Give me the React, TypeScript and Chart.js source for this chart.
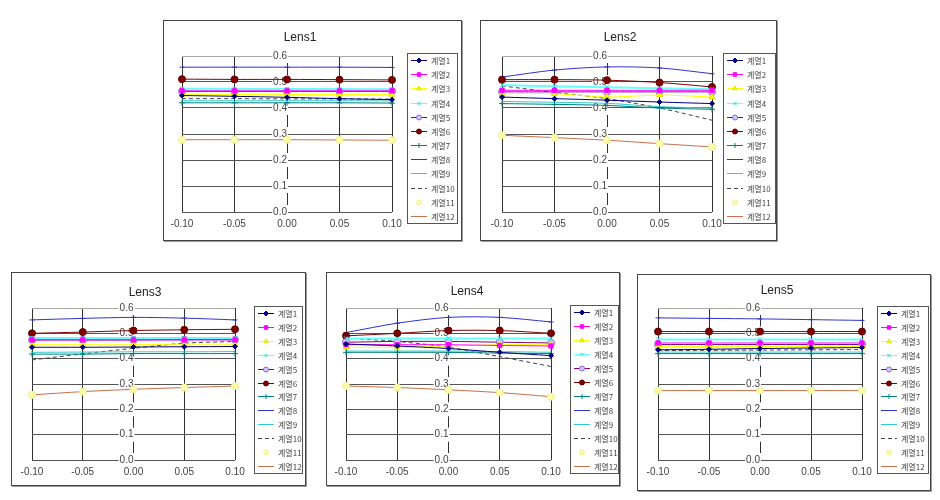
import React, { useEffect, useRef } from 'react';
import { Chart, registerables } from 'chart.js';
import { drawPoint } from 'chart.js/helpers';

Chart.register(...registerables);

// ---------- data ----------
const xValues = [-0.1, -0.05, 0, 0.05, 0.1];
const xTicks = [-0.1, -0.05, 0, 0.05, 0.1];
const yTicks = [0, 0.1, 0.2, 0.3, 0.4, 0.5, 0.6];
const seriesLabels = ['계열1', '계열2', '계열3', '계열4', '계열5', '계열6', '계열7', '계열8', '계열9', '계열10', '계열11', '계열12'];
const lensTitles = ['Lens1', 'Lens2', 'Lens3', 'Lens4', 'Lens5'];

const lens1Values = [
  [0.448, 0.445, 0.441, 0.436, 0.432],
  [0.466, 0.466, 0.466, 0.466, 0.466],
  [0.452, 0.452, 0.452, 0.452, 0.452],
  [0.474, 0.474, 0.473, 0.473, 0.472],
  [0.464, 0.464, 0.464, 0.464, 0.464],
  [0.511, 0.510, 0.510, 0.509, 0.508],
  [0.420, 0.420, 0.420, 0.420, 0.419],
  [0.557, 0.557, 0.557, 0.557, 0.556],
  [0.428, 0.428, 0.428, 0.428, 0.427],
  [0.436, 0.436, 0.435, 0.435, 0.434],
  [0.278, 0.278, 0.278, 0.277, 0.276],
  [0.278, 0.278, 0.278, 0.277, 0.276],
];

const lens2Values = [
  [0.442, 0.436, 0.430, 0.423, 0.417],
  [0.468, 0.468, 0.468, 0.468, 0.468],
  [0.455, 0.455, 0.442, 0.450, 0.442],
  [0.488, 0.484, 0.480, 0.476, 0.472],
  [0.462, 0.462, 0.462, 0.462, 0.462],
  [0.509, 0.509, 0.507, 0.498, 0.481],
  [0.417, 0.414, 0.410, 0.400, 0.395],
  [0.519, 0.546, 0.558, 0.554, 0.532],
  [0.425, 0.422, 0.418, 0.405, 0.400],
  [0.485, 0.460, 0.436, 0.400, 0.353],
  [0.295, 0.286, 0.276, 0.263, 0.250],
  [0.295, 0.286, 0.276, 0.263, 0.250],
];

const lens3Values = [
  [0.445, 0.445, 0.446, 0.447, 0.448],
  [0.474, 0.474, 0.474, 0.474, 0.474],
  [0.455, 0.455, 0.455, 0.457, 0.457],
  [0.482, 0.482, 0.482, 0.482, 0.482],
  [0.474, 0.474, 0.474, 0.475, 0.475],
  [0.500, 0.505, 0.511, 0.514, 0.516],
  [0.418, 0.418, 0.420, 0.420, 0.420],
  [0.553, 0.559, 0.563, 0.560, 0.553],
  [0.425, 0.426, 0.427, 0.427, 0.428],
  [0.395, 0.419, 0.441, 0.461, 0.468],
  [0.257, 0.270, 0.279, 0.286, 0.292],
  [0.257, 0.270, 0.279, 0.286, 0.292],
];

const lens4Values = [
  [0.458, 0.450, 0.440, 0.425, 0.412],
  [0.455, 0.455, 0.455, 0.452, 0.450],
  [0.445, 0.445, 0.450, 0.455, 0.455],
  [0.480, 0.480, 0.480, 0.480, 0.480],
  [0.465, 0.468, 0.468, 0.465, 0.462],
  [0.490, 0.500, 0.511, 0.511, 0.500],
  [0.425, 0.425, 0.425, 0.422, 0.420],
  [0.503, 0.540, 0.563, 0.563, 0.545],
  [0.430, 0.430, 0.430, 0.428, 0.425],
  [0.481, 0.468, 0.445, 0.408, 0.369],
  [0.292, 0.286, 0.277, 0.266, 0.250],
  [0.292, 0.286, 0.277, 0.266, 0.250],
];

const lens5Values = [
  [0.435, 0.437, 0.440, 0.442, 0.444],
  [0.462, 0.462, 0.462, 0.462, 0.462],
  [0.448, 0.448, 0.448, 0.448, 0.448],
  [0.476, 0.476, 0.476, 0.476, 0.476],
  [0.456, 0.456, 0.456, 0.456, 0.456],
  [0.507, 0.507, 0.507, 0.507, 0.507],
  [0.420, 0.420, 0.420, 0.420, 0.420],
  [0.561, 0.559, 0.557, 0.554, 0.551],
  [0.426, 0.426, 0.426, 0.426, 0.426],
  [0.432, 0.433, 0.434, 0.435, 0.436],
  [0.274, 0.274, 0.274, 0.274, 0.274],
  [0.274, 0.274, 0.274, 0.274, 0.274],
];

const lensValues = [lens1Values, lens2Values, lens3Values, lens4Values, lens5Values];

// ---------- styles ----------
type SeriesStyle = {
  color: string; fill: string; stroke: string; pointStyle: any; radius: number;
  width: number; dash: number[]; showLine: boolean;
};
const seriesStyles: SeriesStyle[] = [
  { color: '#000080', fill: '#000080', stroke: '#000080', pointStyle: 'rectRot', radius: 2.5, width: 1, dash: [], showLine: true },
  { color: '#ff00ff', fill: '#ff00ff', stroke: '#ff00ff', pointStyle: 'rect', radius: 3, width: 1, dash: [], showLine: true },
  { color: '#ffff00', fill: '#ffff00', stroke: '#e0e000', pointStyle: 'triangle', radius: 3.5, width: 1, dash: [], showLine: true },
  { color: '#66ffff', fill: '#99ffff', stroke: '#33dddd', pointStyle: 'crossRot', radius: 3, width: 2, dash: [], showLine: true },
  { color: '#800080', fill: '#ccccff', stroke: '#9966cc', pointStyle: 'circle', radius: 3.5, width: 1, dash: [], showLine: true },
  { color: '#800000', fill: '#800000', stroke: '#600000', pointStyle: 'circle', radius: 3.5, width: 1, dash: [], showLine: true },
  { color: '#008080', fill: '#008080', stroke: '#008080', pointStyle: 'cross', radius: 3, width: 1, dash: [], showLine: true },
  { color: '#3333cc', fill: '#3333cc', stroke: '#3333cc', pointStyle: 'line', radius: 2.5, width: 1, dash: [], showLine: true },
  { color: '#33cccc', fill: '#33cccc', stroke: '#33cccc', pointStyle: 'circle', radius: 0, width: 1, dash: [], showLine: true },
  { color: '#444444', fill: '#444444', stroke: '#444444', pointStyle: 'circle', radius: 0, width: 1, dash: [4, 3], showLine: true },
  { color: '#eeffcc', fill: '#ffffaa', stroke: '#eeee99', pointStyle: 'circle', radius: 3.5, width: 1, dash: [], showLine: false },
  { color: '#c8704a', fill: '#c8704a', stroke: '#c8704a', pointStyle: 'circle', radius: 0, width: 1, dash: [], showLine: true },
];

type Rect = { l: number; t: number; r: number; b: number };
type Spec = { box: { x: number; y: number; w: number; h: number }; plot: Rect; legend: Rect; title: { x: number; y: number } };

const layoutSpecs: Spec[] = [
  { box: { x: 163, y: 20, w: 300, h: 222 }, plot: { l: 182, t: 56, r: 392, b: 212 }, legend: { l: 407, t: 53, r: 457, b: 223 }, title: { x: 300, y: 38 } },
  { box: { x: 480, y: 20, w: 298, h: 222 }, plot: { l: 502, t: 56, r: 712, b: 212 }, legend: { l: 723, t: 53, r: 775, b: 223 }, title: { x: 620, y: 38 } },
  { box: { x: 11, y: 272, w: 296, h: 215 }, plot: { l: 32, t: 308, r: 235, b: 460 }, legend: { l: 254, t: 306, r: 302, b: 473 }, title: { x: 145, y: 293 } },
  { box: { x: 326, y: 272, w: 295, h: 215 }, plot: { l: 346, t: 308, r: 551, b: 460 }, legend: { l: 570, t: 305, r: 618, b: 473 }, title: { x: 467, y: 292 } },
  { box: { x: 637, y: 274, w: 295, h: 218 }, plot: { l: 658, t: 308, r: 862, b: 460 }, legend: { l: 877, t: 306, r: 928, b: 473 }, title: { x: 777, y: 291 } },
];

const X_AXIS_HEIGHT = 22;
const tickFont = { family: '"Liberation Sans", Arial, sans-serif', size: 10 };

const decoPlugin = {
  id: 'deco',
  beforeDraw(chart: any) {
    const { ctx, width, height } = chart;
    ctx.save();
    ctx.fillStyle = '#ffffff';
    ctx.fillRect(0, 0, width, height);
    ctx.restore();
  },
  afterDraw(chart: any, _args: any, opts: any) {
    const { ctx, width, height } = chart;
    ctx.save();
    // outer border
    ctx.lineWidth = 1;
    ctx.strokeStyle = '#444';
    ctx.strokeRect(0.5, 0.5, width - 2, height - 2);
    ctx.strokeStyle = '#999';
    ctx.beginPath();
    ctx.moveTo(width - 0.5, 1);
    ctx.lineTo(width - 0.5, height - 0.5);
    ctx.lineTo(1, height - 0.5);
    ctx.stroke();
    // title
    ctx.fillStyle = '#222';
    ctx.font = '12px "Liberation Sans", Arial, sans-serif';
    ctx.textAlign = 'center';
    ctx.textBaseline = 'middle';
    ctx.fillText(opts.title, opts.titleX, opts.titleY);
    // legend
    const r = opts.legend;
    ctx.strokeStyle = '#555';
    ctx.strokeRect(Math.round(r.l) + 0.5, Math.round(r.t) + 0.5, Math.round(r.r - r.l), Math.round(r.b - r.t));
    const ds = chart.data.datasets;
    const step = (r.b - r.t) / ds.length;
    ctx.font = '8px "Noto Sans CJK KR", sans-serif';
    ctx.textAlign = 'left';
    ds.forEach((d: any, i: number) => {
      const y = Math.round(r.t + step * (i + 0.5)) + 0.5;
      const x0 = r.l + 4;
      const x1 = r.l + 20;
      if (d.showLine !== false) {
        ctx.strokeStyle = d.borderColor;
        ctx.lineWidth = 1;
        ctx.setLineDash(d.borderDash || []);
        ctx.beginPath();
        ctx.moveTo(x0, y);
        ctx.lineTo(x1, y);
        ctx.stroke();
        ctx.setLineDash([]);
      }
      if (d.pointRadius > 0) {
        ctx.fillStyle = d.pointBackgroundColor;
        ctx.strokeStyle = d.pointBorderColor;
        ctx.lineWidth = 1;
        drawPoint(ctx, { pointStyle: d.pointStyle, radius: Math.min(d.pointRadius, 2.5), rotation: 0, borderWidth: 1 } as any, (x0 + x1) / 2, y);
      }
      ctx.fillStyle = '#444';
      ctx.fillText(d.label, r.l + 24, y);
    });
    ctx.restore();
  },
};

function LensChart({ index }: { index: number }) {
  const ref = useRef<HTMLCanvasElement>(null);
  const spec = layoutSpecs[index];
  useEffect(() => {
    const { box, plot, legend, title } = spec;
    const values = lensValues[index];
    const datasets = values.map((vals, i) => {
      const st = seriesStyles[i];
      return {
        label: seriesLabels[i],
        data: vals.map((v, j) => ({ x: xValues[j], y: v })),
        borderColor: st.color,
        backgroundColor: st.fill,
        pointBackgroundColor: st.fill,
        pointBorderColor: st.stroke,
        pointStyle: st.pointStyle,
        pointRadius: st.radius,
        pointBorderWidth: 1,
        borderWidth: st.width,
        borderDash: st.dash,
        showLine: st.showLine,
        tension: 0.3,
        fill: false,
        clip: false as any,
      };
    });
    const chart = new Chart(ref.current as HTMLCanvasElement, {
      type: 'line',
      data: { datasets },
      plugins: [decoPlugin],
      options: {
        animation: false,
        responsive: false,
        events: [],
        layout: {
          padding: {
            left: plot.l - box.x,
            top: plot.t - box.y,
            right: box.x + box.w - plot.r,
            bottom: box.y + box.h - plot.b - X_AXIS_HEIGHT,
          },
        },
        plugins: {
          legend: { display: false },
          title: { display: false },
          tooltip: { enabled: false },
          deco: {
            title: lensTitles[index],
            titleX: title.x - box.x,
            titleY: title.y - box.y,
            legend: { l: legend.l - box.x, t: legend.t - box.y, r: legend.r - box.x, b: legend.b - box.y },
          },
        } as any,
        scales: {
          x: {
            type: 'linear',
            min: xTicks[0],
            max: xTicks[xTicks.length - 1],
            afterBuildTicks: (scale: any) => { scale.ticks = xTicks.map((v) => ({ value: v })); },
            afterFit: (scale: any) => { scale.height = X_AXIS_HEIGHT; },
            grid: { color: '#333', lineWidth: 1, drawTicks: false },
            border: { display: false },
            ticks: {
              autoSkip: false,
              maxRotation: 0,
              padding: 6,
              color: '#444',
              font: tickFont,
              callback: (v: any) => Number(v).toFixed(2),
            },
          },
          y: {
            type: 'linear',
            position: { x: 0 } as any,
            min: yTicks[0],
            max: yTicks[yTicks.length - 1],
            afterBuildTicks: (scale: any) => { scale.ticks = yTicks.map((v) => ({ value: v })); },
            grid: {
              color: (c: any) => (c.index === yTicks.length - 1 ? '#aaa' : '#555'),
              lineWidth: 1,
              drawTicks: false,
            },
            border: { display: false },
            ticks: {
              padding: 9,
              color: '#444',
              font: tickFont,
              showLabelBackdrop: true,
              backdropColor: '#ffffff',
              backdropPadding: 1,
              callback: (v: any) => Number(v).toFixed(1),
            } as any,
          },
        },
      },
    });
    return () => chart.destroy();
  }, []);
  return (
    <canvas
      ref={ref}
      width={spec.box.w}
      height={spec.box.h}
      style={{ position: 'absolute', left: spec.box.x, top: spec.box.y, width: spec.box.w, height: spec.box.h }}
    />
  );
}

export default function App() {
  return (
    <div style={{ position: 'absolute', left: 0, top: 0, width: 940, height: 500, background: '#fff', overflow: 'hidden' }}>
      {layoutSpecs.map((_, i) => (
        <LensChart key={i} index={i} />
      ))}
    </div>
  );
}
